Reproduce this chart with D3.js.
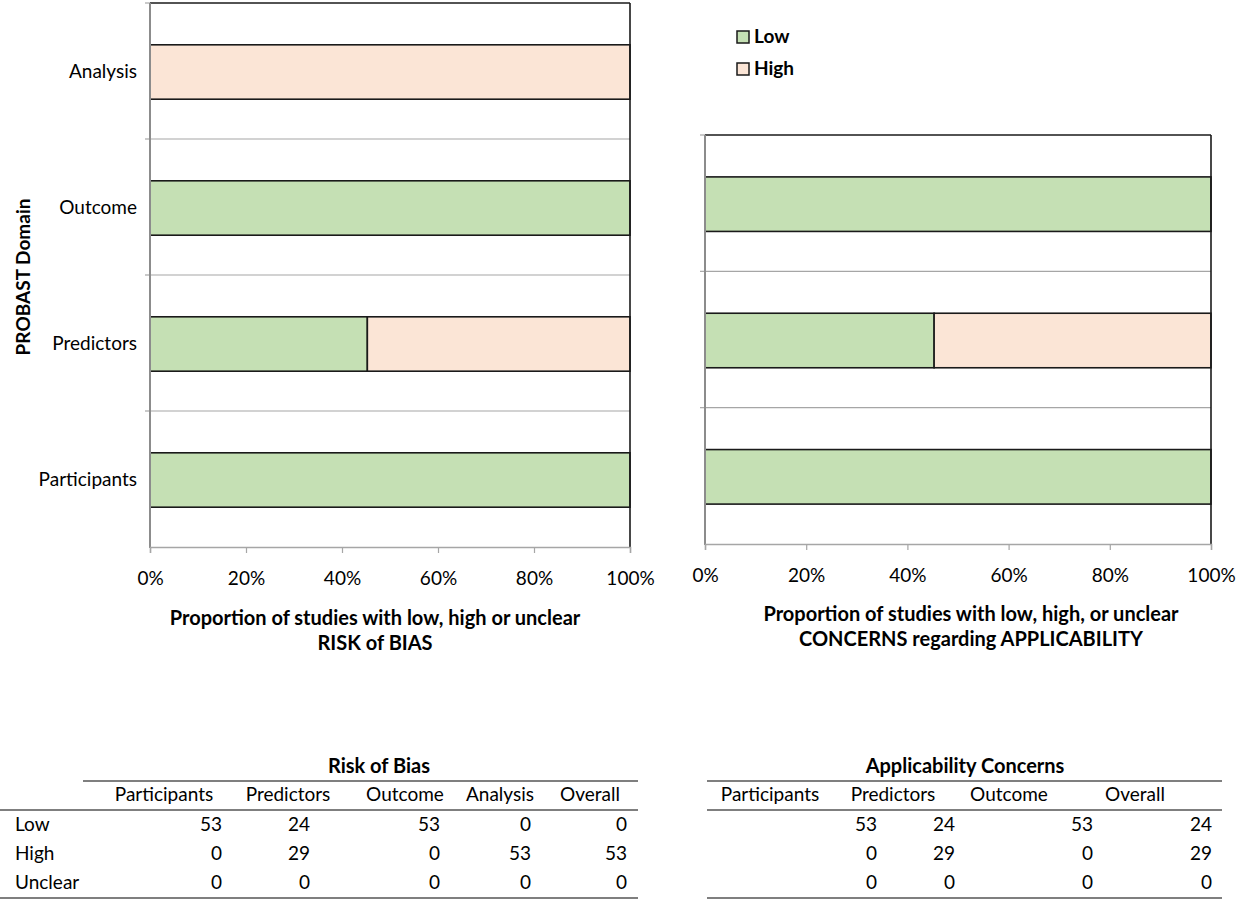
<!DOCTYPE html>
<html>
<head>
<meta charset="utf-8">
<script src="https://cdn.jsdelivr.net/npm/d3@7.9.0/dist/d3.min.js"></script>
<style>
  body { margin: 0; background: #fff; }
  svg { font-family: Lato, "Open Sans", sans-serif; }
</style>
</head>
<body>
<svg id="chart" width="1240" height="899"></svg>
<script>
// risk of bias counts per domain
const robDomains = ['Participants', 'Predictors', 'Outcome', 'Analysis'];
const robLow = [53, 24, 53, 0];
const robHigh = [0, 29, 0, 53];
const robUnclear = [0, 0, 0, 0];
const robOverall = { low: 0, high: 53, unclear: 0 };

// applicability counts per domain
const appDomains = ['Participants', 'Predictors', 'Outcome'];
const appLow = [53, 24, 53];
const appHigh = [0, 29, 0];
const appUnclear = [0, 0, 0];
const appOverall = { low: 24, high: 29, unclear: 0 };

const xTicks = [0, 0.2, 0.4, 0.6, 0.8, 1];
const rowLabels = ['Low', 'High', 'Unclear'];
const colors = { low: '#c5e0b4', high: '#fbe5d6', unclear: '#ffffff' };

const svg = d3.select('#chart');

function drawPanel(domains, low, high, unclear, x0, x1, y0, y1, showLabels) {
    let data = domains.map((d, i) => {
        let total = low[i] + high[i] + unclear[i];
        return { domain: d, low: low[i] / total, high: high[i] / total, unclear: unclear[i] / total };
    });
    let x = d3.scaleLinear().domain([0, 1]).range([x0, x1]);
    // top category first
    let y = d3.scaleBand().domain(domains.slice().reverse()).range([y0, y1]).padding(0);
    let g = svg.append('g');

    // gridlines between categories
    let bounds = d3.range(1, domains.length).map((i) => y0 + i * y.step());
    g.selectAll('.grid').data(bounds).join('line')
        .attr('x1', x0).attr('x2', x1)
        .attr('y1', (d) => d).attr('y2', (d) => d)
        .attr('stroke', '#a6a6a6').attr('stroke-width', 1.2);

    // y axis ticks at band boundaries
    let yTicks = [y0].concat(bounds);
    g.selectAll('.ytick').data(yTicks).join('line')
        .attr('x1', x0 - 5).attr('x2', x0)
        .attr('y1', (d) => d).attr('y2', (d) => d)
        .attr('stroke', '#a6a6a6').attr('stroke-width', 1.2);

    // stacked bars
    let stack = d3.stack().keys(['low', 'high', 'unclear'])(data);
    let bh = y.bandwidth() * 0.4;
    stack.forEach((layer) => {
        g.selectAll(null).data(layer.filter((d) => d[1] - d[0] > 0)).join('rect')
            .attr('x', (d) => x(d[0]))
            .attr('width', (d) => x(d[1]) - x(d[0]))
            .attr('y', (d) => y(d.data.domain) + (y.bandwidth() - bh) / 2 + 1)
            .attr('height', bh)
            .attr('fill', colors[layer.key])
            .attr('stroke', '#1a1a1a').attr('stroke-width', 1.6);
    });

    // frame: top and right black, left and bottom gray axes
    g.append('line').attr('x1', x0).attr('x2', x1).attr('y1', y0).attr('y2', y0)
        .attr('stroke', '#1a1a1a').attr('stroke-width', 1.6);
    g.append('line').attr('x1', x1).attr('x2', x1).attr('y1', y0).attr('y2', y1)
        .attr('stroke', '#1a1a1a').attr('stroke-width', 1.6);
    g.append('line').attr('x1', x0).attr('x2', x0).attr('y1', y0).attr('y2', y1 + 1)
        .attr('stroke', '#8c8c8c').attr('stroke-width', 2);

    // x axis
    let xAxis = g.append('g').attr('transform', `translate(0,${y1})`)
        .call(d3.axisBottom(x).tickValues(xTicks).tickFormat(d3.format('.0%')).tickSize(6).tickPadding(19));
    xAxis.select('.domain').attr('stroke', '#a6a6a6').attr('stroke-width', 1.5);
    xAxis.selectAll('.tick line').attr('stroke', '#a6a6a6').attr('stroke-width', 1.2);
    xAxis.selectAll('.tick text').attr('font-size', 19).attr('fill', '#000')
        .style('font-family', 'Lato, "Open Sans", sans-serif');

    if (showLabels) {
        g.selectAll('.ylab').data(domains).join('text')
            .attr('x', x0 - 13)
            .attr('y', (d) => y(d) + y.bandwidth() / 2 + 2)
            .attr('text-anchor', 'end').attr('dominant-baseline', 'middle')
            .attr('font-size', 19).text((d) => d);
    }
}

drawPanel(robDomains, robLow, robHigh, robUnclear, 150, 630, 3, 547, true);
drawPanel(appDomains, appLow, appHigh, appUnclear, 705, 1211, 135, 544, false);

// y axis title
svg.append('text')
    .attr('transform', 'translate(25,277) rotate(-90)')
    .attr('text-anchor', 'middle').attr('dominant-baseline', 'middle')
    .attr('font-size', 19).attr('font-weight', 'bold')
    .text('PROBAST Domain');

// x axis titles
function twoLine(cx, y, lines) {
    svg.append('g').selectAll('text').data(lines).join('text')
        .attr('x', cx).attr('y', (d, i) => y + i * 25)
        .attr('text-anchor', 'middle').attr('dominant-baseline', 'middle')
        .attr('font-size', 20).attr('font-weight', 'bold')
        .text((d) => d);
}
twoLine(375, 620, ['Proportion of studies with low, high or unclear', 'RISK of BIAS']);
twoLine(971, 616, ['Proportion of studies with low, high, or unclear', 'CONCERNS regarding APPLICABILITY']);

// legend
const legend = svg.append('g').attr('transform', 'translate(737,37)');
['low', 'high'].forEach((k, i) => {
    let row = legend.append('g').attr('transform', `translate(0,${i * 32})`);
    row.append('rect').attr('x', 0).attr('y', -6).attr('width', 12).attr('height', 12)
        .attr('fill', colors[k]).attr('stroke', '#1a1a1a').attr('stroke-width', 1.5);
    row.append('text').attr('x', 17).attr('y', 1).attr('dominant-baseline', 'middle')
        .attr('font-size', 19).attr('font-weight', 'bold')
        .text(rowLabels[i]);
});

// tables
function drawTable(opts) {
    let g = svg.append('g');
    g.append('text').attr('x', opts.titleX).attr('y', 768)
        .attr('text-anchor', 'middle').attr('dominant-baseline', 'middle')
        .attr('font-size', 20).attr('font-weight', 'bold').text(opts.title);
    g.append('line').attr('x1', opts.titleLine[0]).attr('x2', opts.titleLine[1])
        .attr('y1', 781).attr('y2', 781).attr('stroke', '#555').attr('stroke-width', 1.5);
    g.selectAll('.head').data(opts.cols).join('text')
        .attr('x', (d, i) => opts.headX[i]).attr('y', 796)
        .attr('text-anchor', 'middle').attr('dominant-baseline', 'middle')
        .attr('font-size', 19).text((d) => d);
    g.append('line').attr('x1', opts.line[0]).attr('x2', opts.line[1])
        .attr('y1', 810).attr('y2', 810).attr('stroke', '#555').attr('stroke-width', 1.5);
    opts.rows.forEach((vals, r) => {
        let ry = 826 + r * 29;
        if (opts.showRowLabels) {
            g.append('text').attr('x', 15).attr('y', ry).attr('dominant-baseline', 'middle')
                .attr('font-size', 19).text(rowLabels[r]);
        }
        vals.forEach((v, c) => {
            g.append('text').attr('x', opts.numX[c]).attr('y', ry)
                .attr('text-anchor', 'end').attr('dominant-baseline', 'middle')
                .attr('font-size', 19).text(v);
        });
    });
    g.append('line').attr('x1', opts.line[0]).attr('x2', opts.line[1])
        .attr('y1', 898).attr('y2', 898).attr('stroke', '#555').attr('stroke-width', 1.5);
}

drawTable({
    title: 'Risk of Bias', titleX: 379, titleLine: [83, 638], line: [0, 638],
    cols: robDomains.concat(['Overall']),
    headX: [164, 288, 405, 500, 590],
    numX: [222, 310, 440, 531, 627],
    showRowLabels: true,
    rows: [robLow.concat([robOverall.low]), robHigh.concat([robOverall.high]), robUnclear.concat([robOverall.unclear])]
});

drawTable({
    title: 'Applicability Concerns', titleX: 965, titleLine: [707, 1222], line: [707, 1222],
    cols: appDomains.concat(['Overall']),
    headX: [770, 893, 1009, 1135],
    numX: [877, 955, 1093, 1212],
    showRowLabels: false,
    rows: [appLow.concat([appOverall.low]), appHigh.concat([appOverall.high]), appUnclear.concat([appOverall.unclear])]
});
</script>
</body>
</html>
